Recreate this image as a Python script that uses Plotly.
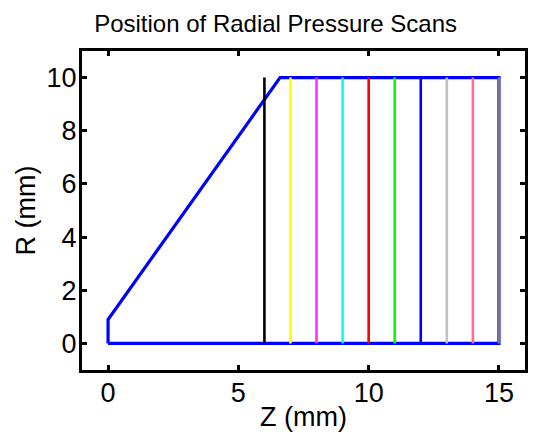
import plotly.graph_objects as go

# Nozzle outline (axial position Z, radius R), in mm
outline_z = [0, 0, 6.6, 15, 15, 0]
outline_r = [0, 0.9, 10, 10, 0, 0]

# Axial positions of the radial pressure scans and their colours
scan_z = [6, 7, 8, 9, 10, 11, 12, 13, 14, 15]
scan_r_min = 0
scan_r_max = 10
scan_colors = ["#000000", "#FFFF00", "#FF33FF", "#00FFFF", "#FF0000",
               "#00FF00", "#0000FF", "#C0C0C0", "#FF6E96", "#767699"]

FONT = "Liberation Sans, Arial, sans-serif"

fig = go.Figure()
fig.add_trace(go.Scatter(x=outline_z, y=outline_r, mode="lines",
                         line=dict(color="#0000FF", width=3.2),
                         hoverinfo="skip"))
for z, c in zip(scan_z, scan_colors):
    fig.add_trace(go.Scatter(x=[z, z], y=[scan_r_min, scan_r_max], mode="lines",
                             line=dict(color=c, width=2.6), hoverinfo="skip"))

axis_common = dict(showgrid=False, zeroline=False, showline=True, mirror="ticks",
                   linecolor="black", linewidth=3, ticks="inside", ticklen=5,
                   tickwidth=3, tickcolor="black",
                   tickfont=dict(family=FONT, size=27, color="black"))

fig.update_layout(
    width=535, height=438,
    margin=dict(l=82, r=7, t=51, b=68),
    paper_bgcolor="white", plot_bgcolor="white",
    showlegend=False,
    font=dict(family=FONT, color="black"),
    title=dict(text="Position of Radial Pressure Scans", x=0.437, xref="paper",
               xanchor="center", y=0.945, yref="container", yanchor="middle",
               font=dict(family=FONT, size=24, color="black")),
    xaxis=dict(range=[-1, 16], tickvals=[0, 5, 10, 15],
               title=dict(text="Z (mm)", standoff=0,
                          font=dict(family=FONT, size=27, color="black")),
               ticklabelstandoff=-3,
               **axis_common),
    yaxis=dict(range=[-1, 11], tickvals=[0, 2, 4, 6, 8, 10],
               title=dict(text="R (mm)", standoff=4,
                          font=dict(family=FONT, size=27, color="black")),
               ticklabelstandoff=-3,
               **axis_common),
)

fig.write_html("out.html")
